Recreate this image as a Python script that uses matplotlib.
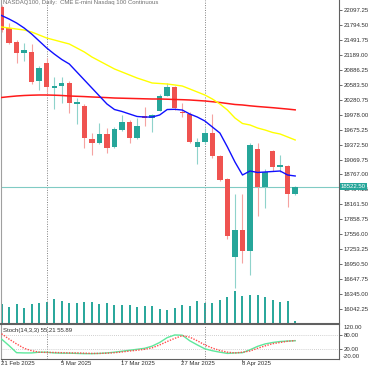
import matplotlib
matplotlib.use("Agg")
import matplotlib.pyplot as plt
import matplotlib.transforms as mtransforms
import numpy as np

plt.rcParams['font.family'] = ['Liberation Sans', 'DejaVu Sans']

# ---------------- data ----------------
dates = ['21 Feb', '24 Feb', '25 Feb', '26 Feb', '27 Feb', '28 Feb',
         '3 Mar', '4 Mar', '5 Mar', '6 Mar', '7 Mar', '10 Mar', '11 Mar', '12 Mar',
         '13 Mar', '14 Mar', '17 Mar', '18 Mar', '19 Mar', '20 Mar', '21 Mar',
         '24 Mar', '25 Mar', '26 Mar', '27 Mar', '28 Mar', '31 Mar',
         '1 Apr', '2 Apr', '3 Apr', '4 Apr', '7 Apr', '8 Apr', '9 Apr', '10 Apr',
         '11 Apr', '14 Apr', '15 Apr', '16 Apr', '17 Apr']
opens = [22158, 21727, 21455, 21220, 21253, 20659, 21030, 20524, 20564, 20625,
         20194, 20159, 19485, 19410, 19586, 19317, 19667, 19835, 19511, 19957,
         19916, 20058, 20362, 20528, 20038, 20001, 19323, 19418, 19613, 19141,
         18669, 17101, 17642, 17217, 19285, 18507, 19242, 18912, 18945, 18371]
highs = [22200, 21828, 21490, 21435, 21403, 20969, 21125, 20747, 20740, 20660,
         20309, 20194, 19606, 19803, 19708, 19722, 19971, 19870, 19910, 20123,
         19985, 20406, 20613, 20558, 20214, 20032, 19499, 19702, 19991, 19161,
         18695, 18371, 18371, 19400, 19400, 18871, 19262, 19161, 18953, 18533]
lows = [21650, 21409, 21018, 21071, 20599, 20477, 20440, 20087, 20220, 20018,
        19789, 19297, 19161, 19384, 19195, 19293, 19647, 19410, 19485, 19758,
        19617, 20042, 20356, 20072, 19937, 19404, 18979, 19384, 19100, 18634,
        17454, 16462, 16968, 16731, 17926, 18082, 18837, 18823, 18114, 18351]
closes = [21692, 21435, 21220, 21287, 20645, 20917, 20532, 20564, 20625, 20208,
          20228, 19499, 19410, 19580, 19309, 19681, 19835, 19499, 19748, 19904,
          19971, 20362, 20532, 20107, 20005, 19430, 19424, 19613, 19131, 18655,
          17520, 17642, 17223, 19366, 18507, 18823, 18918, 18952, 18371, 18522.5]
volumes = [200000, 173000, 200000, 163000, 200000, 207000, 223000, 247000, 233000, 213000,
           213000, 223000, 223000, 200000, 213000, 190000, 190000, 190000, 173000, 180000,
           180000, 150000, 140000, 157000, 190000, 183000, 230000, 215000, 207000, 240000,
           275000, 330000, 280000, 290000, 290000, 270000, 240000, 217000, 233000, 32000]
ma_fast = [21986, 21915, 21834, 21733, 21611, 21469, 21328, 21206, 21095, 21004,
           20842, 20680, 20518, 20356, 20194, 20082, 20042, 19991, 19941, 19930,
           19930, 19971, 20082, 20086, 20072, 19991, 19930, 19850, 19728, 19606,
           19323, 19019, 18756, 18837, 18807, 18817, 18827, 18837, 18756, 18736]
ma_mid = [21753, 21733, 21712, 21692, 21652, 21591, 21530, 21490, 21449, 21409,
          21328, 21247, 21146, 21065, 20984, 20903, 20842, 20781, 20720, 20670,
          20619, 20609, 20599, 20579, 20558, 20498, 20437, 20376, 20295, 20194,
          20072, 19910, 19799, 19769, 19708, 19667, 19617, 19586, 19526, 19465]
ma_slow = [20326, 20342, 20356, 20366, 20372, 20376, 20376, 20372, 20366, 20356,
           20350, 20344, 20336, 20330, 20323, 20315, 20311, 20307, 20303, 20299,
           20295, 20295, 20291, 20285, 20281, 20275, 20265, 20255, 20240, 20224,
           20204, 20184, 20174, 20157, 20143, 20131, 20119, 20105, 20091, 20075]
stoch_k = [62, 35, 6, 5, 5, 8, 8, 5, 4, 4, 3, 2, 2, 3, 5, 8, 12, 16, 20, 24,
           33, 48, 68, 79, 78, 55, 38, 22, 14, 8, 3, 5, 6, 18, 32, 42, 48, 52, 54, 55.21]
stoch_d = [84, 62, 42, 24, 14, 8, 7, 7, 6, 5, 5, 4, 3, 3, 4, 6, 9, 13, 16, 20,
           26, 38, 52, 65, 76, 70, 55, 38, 25, 15, 8, 5, 8, 13, 24, 34, 43, 48, 53, 55.89]
last_price = 18522.50
price_ticks = [22097.25 - 302.75 * k for k in range(21)]
date_labels = {0: '21 Feb 2025', 8: '5 Mar 2025', 16: '17 Mar 2025', 24: '27 Mar 2025', 32: '8 Apr 2025'}
period_starts = [6, 27]
title = 'NASDAQ100, Daily:  CME E-mini Nasdaq 100 Continuous'

# ---------------- figure ----------------
W, Hh = 375, 366
fig = plt.figure(figsize=(W / 100, Hh / 100), dpi=100)
fig.patch.set_facecolor('white')


def rect(x0, y0, x1, y1):
    return [x0 / W, 1 - y1 / Hh, (x1 - x0) / W, (y1 - y0) / Hh]


ax = fig.add_axes(rect(1, 0, 339, 324))
ax2 = fig.add_axes(rect(1, 325, 339, 359))

o = np.array(opens, float); h = np.array(highs, float)
l = np.array(lows, float); c = np.array(closes, float)
idx = np.arange(len(c))
up = c >= o
UP, DN = '#26a69a', '#ef5350'
UPW, DNW = '#8fd3cb', '#f5a3a1'
body_col = [UP if u else DN for u in up]
wick_col = [UPW if u else DNW for u in up]

xmin = -0.07
xmax = xmin + 338 / 7.53
ymin, ymax = 15738.75, 22299.75

# volume overlay
vax = ax.twinx()
vax.set_ylim(0, 3240000)
vax.vlines(idx, 0, volumes, color=UP, lw=1.4, zorder=1)
vax.axis('off')
vax.set_xlim(xmin, xmax)

ax.set_zorder(vax.get_zorder() + 1)
ax.patch.set_visible(False)

ax.axhline(last_price, color='#80cbc4', lw=0.8, zorder=2)
for p in period_starts:
    ax.axvline(p, color='#808080', ls=(0, (1, 1.5)), lw=0.7, zorder=1)
    ax2.axvline(p, color='#808080', ls=(0, (1, 1.5)), lw=0.7, zorder=1)

ax.vlines(idx, l, h, colors=wick_col, lw=0.8, zorder=3)
ax.bar(idx, np.maximum(np.abs(c - o), 22), bottom=np.minimum(o, c), width=0.72,
       color=body_col, edgecolor='none', zorder=4)

ax.plot(idx, ma_slow, color='#ff1a1a', lw=1.1, zorder=5)
ax.plot(idx, ma_mid, color='#ffff00', lw=1.0, zorder=5)
ax.plot(idx, ma_fast, color='#1010ff', lw=1.0, zorder=5)

ax.set_xlim(xmin, xmax)
ax.set_ylim(ymin, ymax)
ax.set_yticks(price_ticks)
ax.set_yticklabels([f'{v:.2f}' for v in price_ticks])
ax.yaxis.tick_right()
ax.tick_params(axis='y', length=2.5, width=0.5, pad=0.8, labelsize=4.3,
               colors='#303030')
ax.tick_params(axis='x', bottom=False, labelbottom=False)
ax.spines['top'].set_visible(False)
ax.spines['left'].set_color('#a0a0a0')
ax.spines['left'].set_linewidth(0.8)
ax.spines['right'].set_color('#606060')
ax.spines['right'].set_linewidth(0.8)
ax.spines['bottom'].set_color('#606060')
ax.spines['bottom'].set_linewidth(1.5)

ax.text(0.006, 1 - 2.5 / 324, title, transform=ax.transAxes, ha='left', va='center',
        fontsize=4.3, color='#707070', zorder=2)

tr = mtransforms.blended_transform_factory(ax.transAxes, ax.transData)
ax.text(1.006, last_price, f'{last_price:.2f}', transform=tr, ha='left', va='center',
        fontsize=4.3, color='white', zorder=10, clip_on=False,
        bbox=dict(boxstyle='square,pad=0.2', fc='#26a69a', ec='none'))

# stochastic panel
ax2.axhline(80, color='#c0c0c0', ls=(0, (1, 1.5)), lw=0.6)
ax2.axhline(20, color='#c0c0c0', ls=(0, (1, 1.5)), lw=0.6)
ax2.plot(idx, stoch_k, color='#5ee89c', lw=1.0, zorder=3)
ax2.plot(idx, stoch_d, color='#ff4d4d', lw=1.0, ls=(0, (1, 1)), zorder=4)
ax2.set_xlim(xmin, xmax)
ax2.set_ylim(-20, 120)
ax2.set_yticks([80, 20])
ax2.set_yticklabels(['80.00', '20.00'])
ax2.yaxis.tick_right()
ax2.tick_params(axis='y', length=2.5, width=0.5, pad=0.8, labelsize=4.3, colors='#303030')
ax2.set_xticks(list(date_labels.keys()))
ax2.set_xticklabels([])
ax2.tick_params(axis='x', length=2, width=0.5, colors='#606060')
ax2.spines['top'].set_visible(False)
ax2.spines['left'].set_color('#a0a0a0')
ax2.spines['left'].set_linewidth(0.8)
ax2.spines['right'].set_color('#606060')
ax2.spines['right'].set_linewidth(0.8)
ax2.spines['bottom'].set_color('#606060')
ax2.spines['bottom'].set_linewidth(0.8)
tr2 = mtransforms.blended_transform_factory(ax2.transAxes, ax2.transData)
ax2.text(1.012, 120, '120.00', transform=tr2, ha='left', va='top', fontsize=4.3,
         color='#303030', clip_on=False)
ax2.text(1.012, -20, '-20.00', transform=tr2, ha='left', va='bottom', fontsize=4.3,
         color='#303030', clip_on=False)
ax2.text(0.006, 0.85, f'Stoch(14,3,3) {stoch_k[-1]:.2f} {stoch_d[-1]:.2f}',
         transform=ax2.transAxes, ha='left', va='center', fontsize=4.3, color='#303030')
trx = mtransforms.blended_transform_factory(ax2.transData, ax2.transAxes)
for i, lab in date_labels.items():
    ax2.text(i - 0.12, -0.05, lab, transform=trx, ha='left', va='top', fontsize=4.3,
             color='#303030', clip_on=False)

fig.savefig('out.png', dpi=100, facecolor='white')
